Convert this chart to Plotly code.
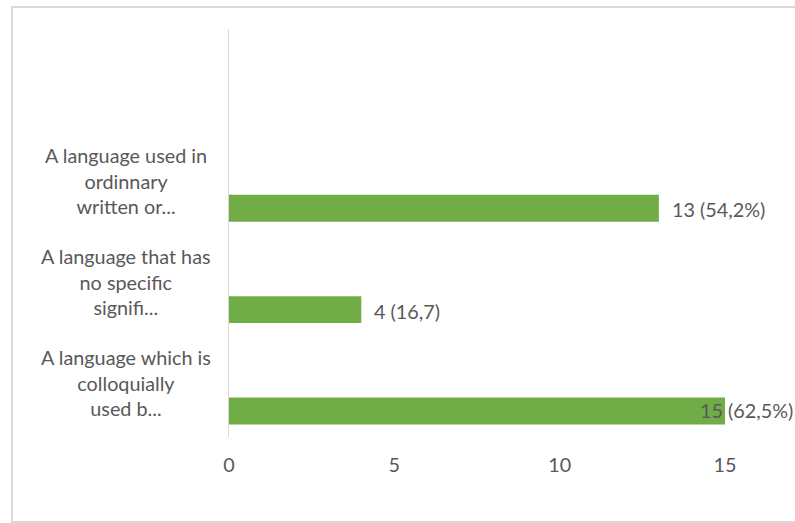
import plotly.graph_objects as go

# Data (bottom to top)
categories = [
    "A language which is<br>colloquially<br>used b...",
    "A language that has<br>no specific<br>signifi...",
    "A language used in<br>ordinnary<br>written or...",
]
values = [15, 4, 13]
value_labels = ["15 (62,5%)", "4 (16,7)", "13 (54,2%)"]
x_ticks = [0, 5, 10, 15]

GREEN = "#70AD47"
TXT = "#595959"
FONT = "Lato, Carlito, Calibri, sans-serif"
FS = 19.8

W, H = 795, 523
L, R, T, B = 229, 70, 29, 86
pw = W - L - R
ph = H - T - B

fig = go.Figure(
    go.Bar(
        y=categories,
        x=values,
        orientation="h",
        marker=dict(color=GREEN, line=dict(width=0)),
        width=0.266,
        hoverinfo="skip",
    )
)

annotations = []
for cat, v, lab in zip(categories, values, value_labels):
    if v == max(values):
        annotations.append(dict(x=v, y=cat, xref="x", yref="y", text=lab, showarrow=False,
                                xanchor="right", xshift=70, yshift=1,
                                font=dict(family=FONT, size=FS, color=TXT)))
    else:
        annotations.append(dict(x=v, y=cat, xref="x", yref="y", text=lab, showarrow=False,
                                xanchor="left", xshift=11, yshift=-1,
                                font=dict(family=FONT, size=FS, color=TXT)))
    annotations.append(dict(x=(126 - L) / pw, y=cat, xref="paper", yref="y", text=cat,
                            showarrow=False, xanchor="center", align="center", yshift=28,
                            font=dict(family=FONT, size=FS, color=TXT)))

fig.update_layout(
    width=W, height=H,
    margin=dict(l=L, r=R, t=T, b=B, pad=0),
    paper_bgcolor="white", plot_bgcolor="white",
    showlegend=False,
    font=dict(family=FONT, size=FS, color=TXT),
    xaxis=dict(range=[0, 15], tickvals=x_ticks, showgrid=False, zeroline=False,
               showline=False, ticks="", ticklabelstandoff=14,
               tickfont=dict(family=FONT, size=FS, color=TXT), fixedrange=True),
    yaxis=dict(type="category", categoryorder="array", categoryarray=categories,
               range=[-0.257, 3.77], showticklabels=False, showgrid=False,
               zeroline=False, showline=True, linecolor="#D9D9D9", linewidth=1,
               ticks="", fixedrange=True),
    annotations=annotations,
    shapes=[dict(type="rect", xref="paper", yref="paper",
                 x0=(12 - L) / pw, x1=(800 - L) / pw,
                 y0=(H - B - 522) / ph, y1=(H - B - 7) / ph,
                 line=dict(color="#D9D9D9", width=2), fillcolor="rgba(0,0,0,0)",
                 layer="below")],
)

fig.write_html(
    "out.html",
    config={"displayModeBar": False},
    post_script="document.body.style.margin='0';document.body.style.overflow='hidden';",
)
